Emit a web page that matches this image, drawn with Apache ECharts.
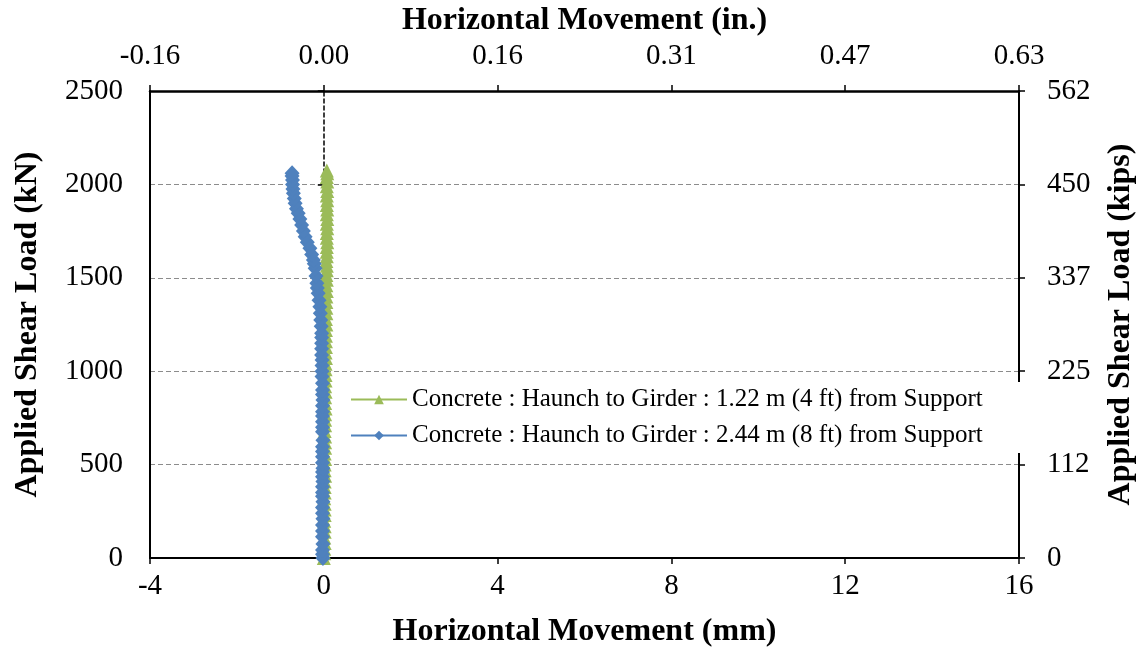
<!DOCTYPE html>
<html>
<head>
<meta charset="utf-8">
<script src="https://cdn.jsdelivr.net/npm/echarts@6/dist/echarts.min.js"></script>
<style>html,body{margin:0;padding:0;background:#fff;}#c{width:1147px;height:648px;}</style>
</head>
<body>
<div id="c"></div>
<script>
// ---- data (load in kN, horizontal movement in mm) ----
const seriesNames = [
  'Concrete : Haunch to Girder : 1.22 m (4 ft) from Support',
  'Concrete : Haunch to Girder : 2.44 m (8 ft) from Support'
];
const greenLoad = [0, 25, 50, 80, 110, 140, 170, 200, 230, 260, 290, 320, 350, 380, 410, 440, 470, 500, 530, 560, 590, 620, 650, 680, 710, 740, 770, 800, 830, 860, 890, 920, 950, 980, 1010, 1040, 1070, 1100, 1130, 1160, 1190, 1220, 1250, 1280, 1310, 1340, 1370, 1400, 1430, 1460, 1490, 1515, 1540, 1565, 1590, 1615, 1640, 1665, 1690, 1715, 1740, 1765, 1790, 1815, 1840, 1865, 1890, 1915, 1940, 1965, 1990, 2015, 2040, 2060, 2075];
const greenMove = [0.00, 0.01, 0.01, 0.02, 0.01, 0.02, 0.02, 0.01, 0.02, 0.02, 0.02, 0.01, 0.02, 0.02, 0.02, 0.03, 0.02, 0.02, 0.03, 0.02, 0.03, 0.03, 0.03, 0.02, 0.03, 0.03, 0.03, 0.04, 0.03, 0.03, 0.04, 0.03, 0.04, 0.04, 0.04, 0.04, 0.05, 0.04, 0.05, 0.05, 0.05, 0.05, 0.06, 0.05, 0.06, 0.06, 0.06, 0.06, 0.07, 0.06, 0.07, 0.06, 0.07, 0.07, 0.06, 0.07, 0.07, 0.07, 0.08, 0.07, 0.07, 0.08, 0.07, 0.08, 0.07, 0.08, 0.07, 0.08, 0.07, 0.08, 0.07, 0.08, 0.07, 0.08, 0.07];
const blueLoad = [0, 20, 43, 75, 114, 145, 177, 210, 239, 270, 301, 330, 350, 382, 410, 435, 460, 480, 510, 542, 570, 596, 630, 676, 700, 730, 760, 783, 815, 846, 875, 900, 935, 971, 1000, 1030, 1060, 1087, 1120, 1150, 1180, 1203, 1240, 1274, 1310, 1345, 1380, 1417, 1445, 1471, 1510, 1551, 1575, 1595, 1625, 1658, 1690, 1720, 1750, 1783, 1815, 1845, 1870, 1899, 1925, 1952, 1975, 2000, 2024, 2045, 2060];
const blueMove = [-0.02, -0.03, -0.03, -0.02, -0.03, -0.03, -0.03, -0.02, -0.03, -0.03, -0.02, -0.03, -0.03, -0.03, -0.02, -0.03, -0.03, -0.02, -0.03, -0.03, -0.03, -0.03, -0.02, -0.03, -0.03, -0.03, -0.03, -0.03, -0.03, -0.02, -0.03, -0.03, -0.03, -0.04, -0.04, -0.04, -0.04, -0.05, -0.05, -0.05, -0.05, -0.05, -0.06, -0.07, -0.08, -0.09, -0.11, -0.13, -0.15, -0.16, -0.18, -0.20, -0.22, -0.24, -0.28, -0.32, -0.38, -0.43, -0.47, -0.51, -0.55, -0.59, -0.63, -0.66, -0.68, -0.70, -0.71, -0.72, -0.72, -0.73, -0.73];
const xTicksMm = { min: -4, max: 16, step: 4 };
const yTicksKN = { min: 0, max: 2500, step: 500 };
const MM_PER_IN = 25.4;
const KIPS_PER_KN = 0.224809;

const FONT = '"Liberation Serif", "Times New Roman", serif';
const chart = echarts.init(document.getElementById('c'));
const pairs = (xs, ys) => xs.map((x, i) => [x, ys[i]]);

chart.setOption({
  animation: false,
  backgroundColor: '#fff',
  grid: { left: 150, right: 128, top: 91, bottom: 90, containLabel: false, outerBoundsMode: 'none' },
  legend: {
    data: seriesNames,
    orient: 'vertical',
    left: 343, top: 382,
    itemWidth: 56, itemHeight: 12, itemGap: 11,
    backgroundColor: '#fff',
    padding: [5, 40, 5, 7],
    textStyle: { fontFamily: FONT, fontSize: 25, color: '#000' }
  },
  xAxis: [
    {
      type: 'value', position: 'bottom',
      min: xTicksMm.min, max: xTicksMm.max, interval: xTicksMm.step,
      name: 'Horizontal Movement (mm)', nameLocation: 'middle', nameGap: 58,
      nameTextStyle: { fontFamily: FONT, fontSize: 32, fontWeight: 'bold', color: '#000' },
      axisLine: { onZero: false, lineStyle: { color: '#000', width: 2 } },
      axisTick: { show: true, inside: false, length: 6, lineStyle: { color: '#000', width: 1.5 } },
      axisLabel: { fontFamily: FONT, fontSize: 29, color: '#000', margin: 14 },
      splitLine: { show: false }
    },
    {
      type: 'value', position: 'top',
      min: xTicksMm.min, max: xTicksMm.max, interval: xTicksMm.step,
      name: 'Horizontal Movement (in.)', nameLocation: 'middle', nameGap: 47,
      nameTextStyle: { fontFamily: FONT, fontSize: 32, fontWeight: 'bold', color: '#000' },
      axisLine: { onZero: false, lineStyle: { color: '#000', width: 2.5 } },
      axisTick: { show: true, inside: false, length: 6, lineStyle: { color: '#000', width: 1.5 } },
      axisLabel: { fontFamily: FONT, fontSize: 29, color: '#000', margin: 20,
        formatter: v => (v / MM_PER_IN).toFixed(2) },
      splitLine: { show: false }
    }
  ],
  yAxis: [
    {
      type: 'value', position: 'left',
      min: yTicksKN.min, max: yTicksKN.max, interval: yTicksKN.step,
      name: 'Applied Shear Load (kN)', nameLocation: 'middle', nameGap: 106, nameRotate: 90,
      nameTextStyle: { fontFamily: FONT, fontSize: 32, fontWeight: 'bold', color: '#000' },
      axisLine: { onZero: false, lineStyle: { color: '#000', width: 2 } },
      axisTick: { show: false },
      axisLabel: { fontFamily: FONT, fontSize: 29, color: '#000', margin: 27, formatter: v => String(v) },
      splitLine: { show: true, lineStyle: { color: '#8c8c8c', width: 1.2, type: [5, 3] } }
    },
    {
      type: 'value', position: 'right',
      min: yTicksKN.min, max: yTicksKN.max, interval: yTicksKN.step,
      name: 'Applied Shear Load (kips)', nameLocation: 'middle', nameGap: 86, nameRotate: 90,
      nameTextStyle: { fontFamily: FONT, fontSize: 32, fontWeight: 'bold', color: '#000' },
      axisLine: { onZero: false, lineStyle: { color: '#000', width: 2 } },
      axisTick: { show: true, inside: false, length: 6, lineStyle: { color: '#000', width: 1.5 } },
      axisLabel: { fontFamily: FONT, fontSize: 29, color: '#000', margin: 28,
        formatter: v => String(Math.round(v * KIPS_PER_KN)) },
      splitLine: { show: false }
    },
    {
      type: 'value', position: 'left',
      min: yTicksKN.min, max: yTicksKN.max, interval: yTicksKN.step,
      axisLine: { onZero: true, lineStyle: { color: '#000', width: 1.5, type: [4, 3] } },
      axisTick: { show: true, inside: false, length: 5, lineStyle: { color: '#000', width: 1.5 } },
      axisLabel: { show: false },
      splitLine: { show: false }
    },
    {
      type: 'value', position: 'right',
      min: yTicksKN.min, max: yTicksKN.max, interval: yTicksKN.step,
      axisLine: { show: false },
      axisTick: { show: true, inside: true, length: 6, lineStyle: { color: '#000', width: 1.5 } },
      axisLabel: { show: false },
      splitLine: { show: false }
    }
  ],
  series: [
    {
      name: seriesNames[0], type: 'line', xAxisIndex: 0, yAxisIndex: 0,
      data: pairs(greenMove, greenLoad),
      symbol: 'triangle', symbolSize: 14, showSymbol: true,
      itemStyle: { color: '#9BBB59' },
      lineStyle: { color: '#9BBB59', width: 2 }
    },
    {
      name: seriesNames[1], type: 'line', xAxisIndex: 0, yAxisIndex: 0,
      data: pairs(blueMove, blueLoad),
      symbol: 'diamond', symbolSize: [15, 16], showSymbol: true,
      itemStyle: { color: '#4F81BD' },
      lineStyle: { color: '#4F81BD', width: 2 }
    }
  ]
});
</script>
</body>
</html>
